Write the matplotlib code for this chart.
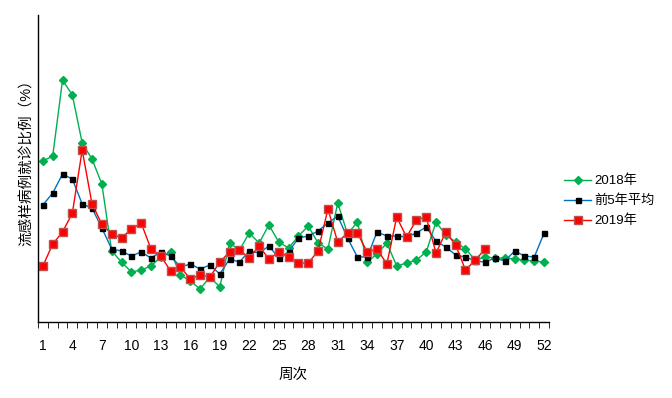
import matplotlib.pyplot as plt
import numpy as np

plt.rcParams['font.family'] = ['Liberation Sans', 'Noto Sans CJK SC']

weeks = np.arange(1, 53)
tick_weeks = list(range(1, 53, 3))

# 2018年
y2018 = [3.22, 3.32, 4.84, 4.54, 3.58, 3.26, 2.76, 1.42, 1.20, 1.00,
         1.04, 1.12, 1.30, 1.40, 0.94, 0.82, 0.66, 0.90, 0.70, 1.58,
         1.44, 1.78, 1.58, 1.94, 1.60, 1.48, 1.72, 1.92, 1.58, 1.46,
         2.38, 1.76, 2.00, 1.20, 1.36, 1.58, 1.12, 1.18, 1.24, 1.40,
         2.00, 1.74, 1.60, 1.46, 1.24, 1.30, 1.28, 1.28, 1.26, 1.24,
         1.22, 1.20]

# 前5年平均
avg5 = [2.34, 2.58, 2.96, 2.86, 2.36, 2.28, 1.88, 1.46, 1.42, 1.32,
        1.40, 1.28, 1.40, 1.32, 1.10, 1.16, 1.06, 1.14, 0.96, 1.26,
        1.20, 1.42, 1.38, 1.52, 1.28, 1.40, 1.68, 1.72, 1.82, 1.98,
        2.12, 1.68, 1.30, 1.30, 1.80, 1.72, 1.72, 1.70, 1.78, 1.90,
        1.62, 1.50, 1.34, 1.30, 1.22, 1.20, 1.28, 1.22, 1.42, 1.32,
        1.30, 1.78]

# 2019年 (to week 46)
y2019 = [1.12, 1.56, 1.80, 2.18, 3.44, 2.36, 1.96, 1.76, 1.68, 1.86,
         1.98, 1.46, 1.32, 1.02, 1.10, 0.86, 0.94, 0.90, 1.20, 1.40,
         1.44, 1.28, 1.52, 1.26, 1.40, 1.30, 1.18, 1.18, 1.42, 2.26,
         1.60, 1.78, 1.78, 1.40, 1.46, 1.16, 2.10, 1.70, 2.04, 2.10,
         1.38, 1.80, 1.54, 1.04, 1.24, 1.46]

fig = plt.figure(figsize=(6.72, 3.98), dpi=100)
ax = fig.add_axes([0.0565, 0.191, 0.7605, 0.771])

ax.plot(weeks, y2018, color='#00B050', lw=1, marker='D', ms=4,
        mec='#00B050', mfc='#00B050', label='2018年')
ax.plot(weeks, avg5, color='#0070C0', lw=1, marker='s', ms=3.6,
        mec='black', mfc='black', label='前5年平均')
ax.plot(weeks[:len(y2019)], y2019, color='#FF0000', lw=1, marker='s', ms=6,
        mec='#C0504D', mfc='#FF0000', label='2019年')

ax.set_xlim(0.5, 52.5)
ax.set_ylim(0, 6.14)
ax.set_yticks([])
ax.set_xticks(tick_weeks)
ax.set_xticklabels([str(w) for w in tick_weeks], fontsize=10)
ax.tick_params(axis='x', which='major', length=0, pad=12)
ax.set_xticks(np.arange(0.5, 53, 1), minor=True)
ax.tick_params(axis='x', which='minor', length=4, direction='out', color='black')

for s in ['top', 'right']:
    ax.spines[s].set_visible(False)
for s in ['left', 'bottom']:
    ax.spines[s].set_color('black')
    ax.spines[s].set_linewidth(1)

ax.set_xlabel('周次', fontsize=10.5, labelpad=11)
ax.set_ylabel('流感样病例就诊比例（%）', fontsize=10.5)
ax.yaxis.set_label_coords(-0.008, 0.53)

fig.legend(loc='center left', bbox_to_anchor=(0.84, 0.495), frameon=False,
           fontsize=9.5, handlelength=2.0, handletextpad=0.25, labelspacing=0.55,
           borderaxespad=0, borderpad=0)

fig.savefig('out.png', dpi=100)
